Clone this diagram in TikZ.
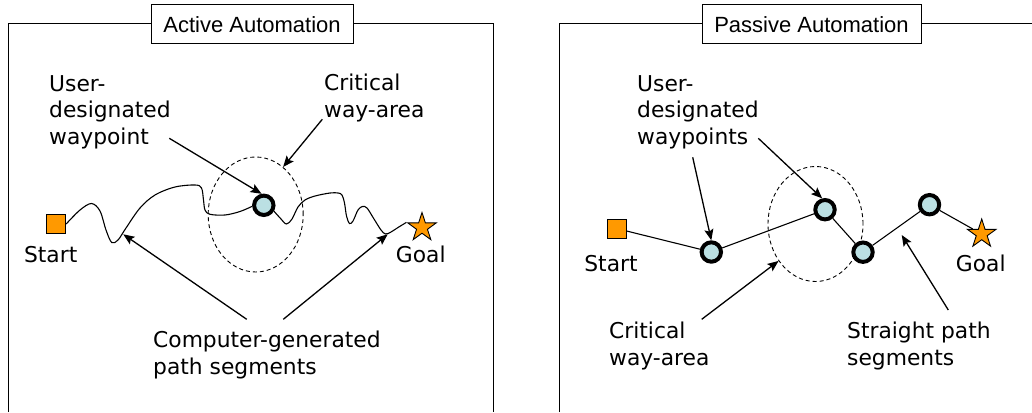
\documentclass[tikz,border=0pt]{standalone}
\usepackage{fontspec}
\newfontfamily\labfont{DejaVu Sans}
\newfontfamily\ttlfont{Liberation Sans}
\usetikzlibrary{shapes.geometric,arrows.meta}
\definecolor{wporange}{HTML}{FF9900}
\definecolor{wpblue}{HTML}{BBE0E3}
\tikzset{
  frameline/.style={line width=1pt},
  ttlbox/.style={draw, line width=1pt, fill=white, minimum height=39pt, inner sep=0pt, font=\ttlfont\fontsize{22}{26}\selectfont},
  lbl/.style={align=left, inner sep=0pt, anchor=north west, font=\labfont\fontsize{21.8}{26.5}\selectfont},
  ptlbl/.style={inner sep=0pt, font=\labfont\fontsize{21.8}{26.5}\selectfont},
  sqnode/.style={draw, line width=0.9pt, fill=wporange, minimum size=19pt, inner sep=0pt},
  goalstar/.style={star, star points=5, star point ratio=2.618, minimum size=30pt, inner sep=0pt, draw, line width=0.9pt, fill=wporange},
  wpnode/.style={circle, draw, line width=4pt, fill=wpblue, minimum size=19.4pt, inner sep=0pt},
  area/.style={ellipse, draw, line width=0.9pt, dash pattern=on 4pt off 3pt, minimum width=95pt, minimum height=115pt, inner sep=0pt},
  pathline/.style={line width=1.1pt},
  callout/.style={line width=1.3pt, -{Stealth[length=11pt,width=9pt,inset=2pt]}}
}
\begin{document}
\begin{tikzpicture}[x=1pt,y=-1pt]
\useasboundingbox (0,0) rectangle (1032,412);
% ---------- Left panel ----------
\draw[frameline] (8.5,412) |- (493,24) -- (493,412);
\node[ttlbox, minimum width=202pt] (tL) at (252,24.5) {Active Automation};
\node[area] (cwaL) at (255.7,214.5) {};
\node[sqnode] (sqL) at (56.2,224) {};
\node[goalstar] (gL) at (422,227.5) {};
\node[wpnode] (wpL) at (263.8,205.3) {};
\node[ptlbl] (startL) at (50.7,254.5) {Start};
\node[ptlbl] (goalL) at (420.8,254.5) {Goal};
\draw[pathline] plot[smooth, tension=0.55] coordinates {
  (sqL.east) (80,210) (91.5,203.5) (100,211) (106,230) (111.7,242.5) (118,240)
  (126,228) (140,208) (155,195) (175,187) (195,185) (201.5,188) (203.5,200)
  (205,210) (210,214.3) (225,215) (240,211.5) (wpL.185)};
\draw[pathline] plot[smooth, tension=0.55] coordinates {
  (wpL.-30) (281,219) (286.5,224) (292,219) (298,207) (305,200) (315,196)
  (330,193) (338,193) (342,195) (344.5,203) (346.5,216) (349.5,223.5) (353,221)
  (358,210) (362.5,206.5) (367,208) (374,219) (381,230) (385.5,234) (391,232)
  (398,227.5) (gL.162)};
\node[lbl] (udL) at (49,75) {User-\\designated\\waypoint};
\node[lbl] (cwL) at (324,74) {Critical\\way-area};
\node[lbl] (cgL) at (153,331) {Computer-generated\\path segments};
\coordinate (a1t) at (169.3,138.3);
\coordinate (a2t) at (322.3,119.3);
\coordinate (a3t) at (246.7,319.3);
\coordinate (a4t) at (283.3,319.3);
\coordinate (p1) at (123.3,234.3);
\coordinate (p2) at (387.7,234.3);
\draw[callout] (a1t) -- (wpL.101);
\draw[callout] (a2t) -- (cwaL.60);
\draw[callout] (a3t) -- (p1);
\draw[callout] (a4t) -- (p2);
% ---------- Right panel ----------
\draw[frameline] (559,412) |- (1032,24);
\node[ttlbox, minimum width=219pt] (tR) at (811.5,24.5) {Passive Automation};
\node[area] (cwaR) at (815.5,224) {};
\node[sqnode] (sqR) at (616.5,228.5) {};
\node[goalstar] (gR) at (981.7,234) {};
\node[wpnode] (w1) at (711.3,252) {};
\node[wpnode] (w2) at (825,209.7) {};
\node[wpnode] (w3) at (863,252.2) {};
\node[wpnode] (w4) at (929.5,204.7) {};
\draw[pathline] (sqR) -- (w1);
\draw[pathline] (w1) -- (w2);
\draw[pathline] (w2) -- (w3);
\draw[pathline] (w3) -- (w4);
\draw[pathline] (w4) -- (gR);
\node[ptlbl] (startR) at (611,263.3) {Start};
\node[ptlbl] (goalR) at (980.8,263.3) {Goal};
\node[lbl] (udR) at (637,75) {User-\\designated\\waypoints};
\node[lbl] (cwR) at (609,322) {Critical\\way-area};
\node[lbl] (spR) at (847,322) {Straight path\\segments};
\coordinate (b1t) at (692.7,157.3);
\coordinate (b2t) at (758.3,138.3);
\coordinate (b3t) at (701.7,319.3);
\coordinate (b4t) at (948.3,310);
\coordinate (q4) at (901.7,235);
\draw[callout] (b1t) -- (w1.north);
\draw[callout] (b2t) -- (w2.104);
\draw[callout] (b3t) -- (cwaR.225);
\draw[callout] (b4t) -- (q4);
\end{tikzpicture}
\end{document}
